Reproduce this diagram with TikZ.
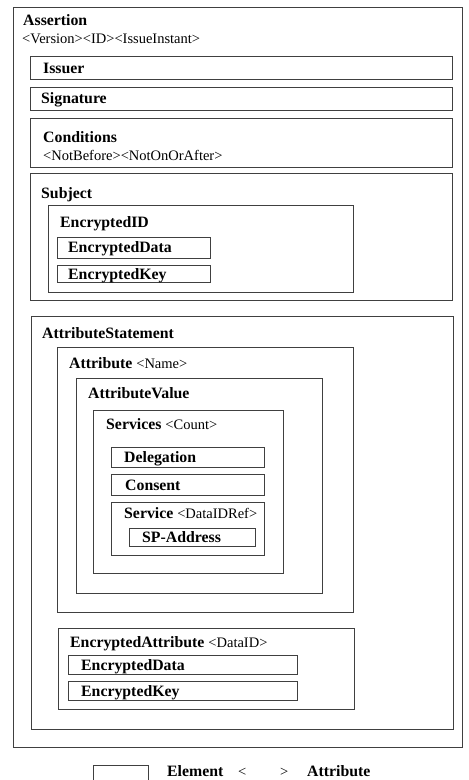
\documentclass[tikz,border=0pt]{standalone}
\usepackage{fontspec}
\setmainfont{Liberation Serif}
\usepackage{tikz}
\usetikzlibrary{positioning}

\begin{document}
\begin{tikzpicture}[x=1pt,y=-1pt,
	box/.style={draw=black!75,line width=0.8pt},
	elem/.style={anchor=base west,inner sep=0pt,font=\fontsize{15.8}{18}\selectfont\bfseries},
	attr/.style={anchor=base west,inner sep=0pt,font=\fontsize{14.5}{18}\selectfont}]
\useasboundingbox (0,0) rectangle (469,780);
% outer assertion
\draw[box] (13,7) rectangle (462,747);
\node[elem] (assertion) at (23,25) {Assertion};
\node[attr] (assertionattr) at (22,43) {<Version><ID><IssueInstant>};
\draw[box] (30,56) rectangle (452,79);
\node[elem] (issuer) at (43,73) {Issuer};
\draw[box] (30,87) rectangle (452,110);
\node[elem] (signature) at (41,103) {Signature};
\draw[box] (30,118) rectangle (452,167);
\node[elem] (conditions) at (43,142) {Conditions};
\node[attr] (conditionsattr) at (43,160) {<NotBefore><NotOnOrAfter>};
% subject
\draw[box] (30,173) rectangle (452,300);
\node[elem] (subject) at (41,198) {Subject};
\draw[box] (48,205) rectangle (353,292);
\node[elem] (encid) at (60,227) {EncryptedID};
\draw[box] (57,237) rectangle (210,258);
\node[elem] (encdata) at (68,252) {EncryptedData};
\draw[box] (57,265) rectangle (210,282);
\node[elem] (enckey) at (68,279) {EncryptedKey};
% attribute statement
\draw[box] (31,316) rectangle (453,729);
\node[elem] (attrstmt) at (42,338) {AttributeStatement};
\draw[box] (57,347) rectangle (353,612);
\node[elem] (attribute) at (69,368) {Attribute \mdseries\fontsize{14.5}{18}\selectfont<Name>};
\draw[box] (76,378) rectangle (322,593);
\node[elem] (attrvalue) at (88,398) {AttributeValue};
\draw[box] (93,410) rectangle (283,573);
\node[elem] (services) at (106,429) {Services \mdseries\fontsize{14.5}{18}\selectfont<Count>};
\draw[box] (111,447) rectangle (264,467);
\node[elem] (delegation) at (124,462) {Delegation};
\draw[box] (111,474) rectangle (264,495);
\node[elem] (consent) at (125,490) {Consent};
\draw[box] (111,502) rectangle (264,555);
\node[elem] (service) at (124,518) {Service \mdseries\fontsize{14.5}{18}\selectfont<DataIDRef>};
\draw[box] (129,528) rectangle (255,546);
\node[elem] (spaddress) at (142,542) {SP-Address};
% encrypted attribute
\draw[box] (58,628) rectangle (354,709);
\node[elem] (encattr) at (70,647) {EncryptedAttribute \mdseries\fontsize{14.5}{18}\selectfont<DataID>};
\draw[box] (68,655) rectangle (297,674);
\node[elem] (encattrdata) at (81,670) {EncryptedData};
\draw[box] (68,681) rectangle (297,700);
\node[elem] (encattrkey) at (81,696) {EncryptedKey};
% legend
\draw[box] (93,765) rectangle (148,790);
\node[elem] (legelem) at (167,776) {Element};
\node[attr] (legopen) at (238,776) {<};
\node[attr] (legclose) at (280,776) {>};
\node[elem] (legattr) at (307,776) {Attribute};
\end{tikzpicture}
\end{document}
